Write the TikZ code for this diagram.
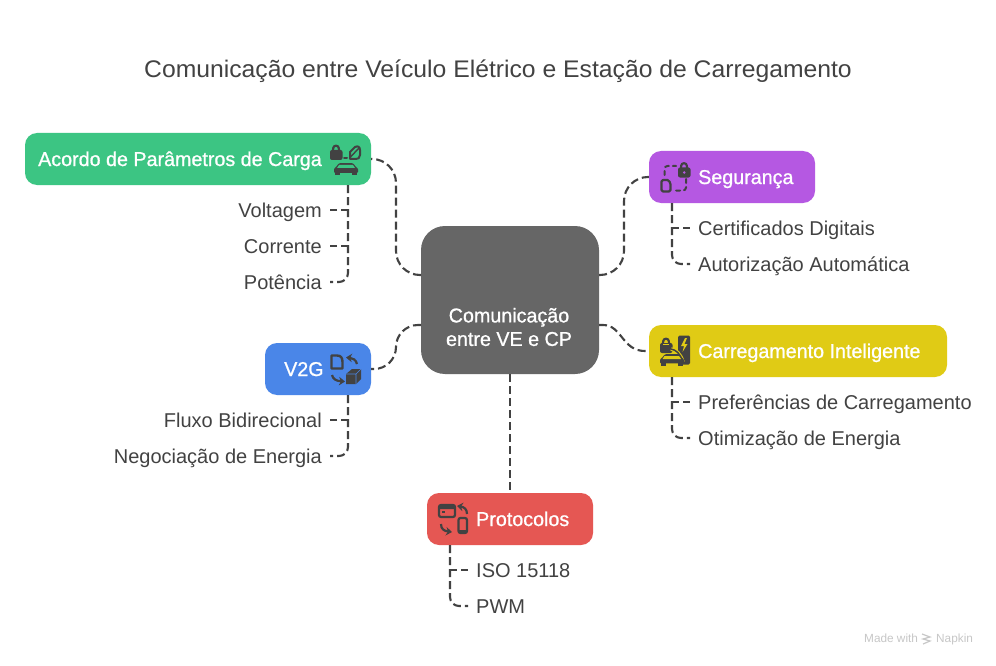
\documentclass[tikz,border=0pt]{standalone}
\usepackage{fontspec}
\setmainfont{Liberation Sans}
\newfontfamily\medfont[FakeStretch=.985,FakeBold=0.9]{Liberation Sans}
\newfontfamily\titlefont[FakeStretch=1.03]{Liberation Sans}
\usetikzlibrary{arrows.meta,calc}
\definecolor{ink}{HTML}{424242}
\definecolor{cgreen}{HTML}{3CC583}
\definecolor{cpurple}{HTML}{B558E2}
\definecolor{cyellow}{HTML}{E0CB15}
\definecolor{cblue}{HTML}{4A86E8}
\definecolor{cred}{HTML}{E55753}
\definecolor{cgrey}{HTML}{666666}
\tikzset{
  x=1pt,y=-1pt,
  conn/.style={draw=ink,line width=2.1pt,dash pattern=on 8pt off 4pt},
  box/.style={draw=none,rounded corners=12pt,minimum height=52pt,inner sep=0pt,text width=0pt},
  boxtitle/.style={inner sep=0pt,text=white,font=\medfont\fontsize{20}{24}\selectfont,text height=14pt,text depth=0pt},
  leaf/.style={inner sep=0pt,text=ink,font=\fontsize{20}{24}\selectfont,text height=14pt,text depth=0pt},
  iline/.style={draw=ink,line width=2pt,fill=none,line cap=round,line join=round},
  iarrow/.style={draw=ink,line width=2.2pt,-{Stealth[length=6pt,width=8.5pt]}},
}
\newcommand{\padlock}[3]{% x,y of top-left, colour of keyhole
  \begin{scope}[shift={(#1,#2)}]
    \draw[draw=ink,line width=2.2pt] (2.8,7) -- (3.2,3.2) arc[start angle=180,end angle=0,x radius=2.8,y radius=-2.5] -- (9.2,7);
    \fill[ink,rounded corners=2pt] (0,5) rectangle (12.5,15);
    \fill[#3] (6.2,10) circle (1.3pt);
  \end{scope}}
\newcommand{\carshape}[4]{% x,y,width,height; body colour dark
  \begin{scope}[shift={(#1,#2)},x=#3pt,y=-#4pt]
    \fill[ink,rounded corners=1pt] (.08,.35) -- (.2,.02) -- (.8,.02) -- (.92,.35) -- (1,.45) -- (1,.82) -- (0,.82) -- (0,.45) -- cycle;
    \fill[ink] (.06,.8) rectangle (.26,1);
    \fill[ink] (.74,.8) rectangle (.94,1);
  \end{scope}}
\begin{document}
\begin{tikzpicture}
\useasboundingbox (0,0) rectangle (996,666);
\fill[white] (0,0) rectangle (996,666);

\node[inner sep=0pt,text=ink,font=\titlefont\fontsize{24}{28}\selectfont,anchor=base] (title) at (498,78) {Comunicação entre Veículo Elétrico e Estação de Carregamento};

% boxes
\node[box,fill=cgrey,rounded corners=24pt,minimum width=178pt,minimum height=148pt] (center) at (510,300) {};
\node[inner sep=0pt,text=white,font=\medfont\fontsize{20}{23.5}\selectfont,align=center] (centerlabel) at (509,327) {Comunicação\\entre VE e CP};
\node[box,fill=cgreen,minimum width=346pt] (green) at (198,159) {};
\node[box,fill=cpurple,minimum width=166pt] (purple) at (732,177) {};
\node[box,fill=cyellow,minimum width=298pt] (yellow) at (798,351) {};
\node[box,fill=cblue,minimum width=106pt] (blue) at (318,369) {};
\node[box,fill=cred,minimum width=166pt] (red) at (510,519) {};

\node[boxtitle,anchor=west] (greent) at (38,159) {Acordo de Parâmetros de Carga};
\node[boxtitle,anchor=west] (purplet) at (698,177) {Segurança};
\node[boxtitle,anchor=west] (yellowt) at (698,351) {Carregamento Inteligente};
\node[boxtitle,anchor=west] (bluet) at (284,369) {V2G};
\node[boxtitle,anchor=west] (redt) at (476,519) {Protocolos};

% leaves
\node[leaf,anchor=east] (volt) at (322,210) {Voltagem};
\node[leaf,anchor=east] (corr) at (322,246) {Corrente};
\node[leaf,anchor=east] (pote) at (322,282) {Potência};
\node[leaf,anchor=east] (flux) at (322,420) {Fluxo Bidirecional};
\node[leaf,anchor=east] (nego) at (322,456) {Negociação de Energia};
\node[leaf,anchor=west] (cert) at (698,228) {Certificados Digitais};
\node[leaf,anchor=west] (auto) at (698,264) {Autorização Automática};
\node[leaf,anchor=west] (pref) at (698,402) {Preferências de Carregamento};
\node[leaf,anchor=west] (otim) at (698,438) {Otimização de Energia};
\node[leaf,anchor=west] (iso) at (476,570) {ISO 15118};
\node[leaf,anchor=west] (pwm) at (476,606) {PWM};

% anchors of the connectors
\coordinate (greentop) at (348,185);
\coordinate (bluetop) at (348,395);
\coordinate (purpletop) at (672,203);
\coordinate (yellowtop) at (672,377);
\coordinate (redtop) at (450,545);
\coordinate (cR1) at (599,275);
\coordinate (cR2) at (599,325);
\coordinate (cL1) at (421,275);
\coordinate (cL2) at (421,325);
\coordinate (gapL) at (8,0);
\coordinate (gapR) at (-8,0);

% centre connectors
\draw[conn,rounded corners=24pt] (cL1) -- (396,275) -- (396,159) -- (green.east);
\draw[conn,rounded corners=24pt] (cR1) -- (624,275) -- (624,177) -- (purple.west);
\draw[conn] (cR2) -- (603,325) .. controls (622,325) and (622,351) .. (645,351) -- (yellow.west);
\draw[conn,rounded corners=22pt] (cL2) -- (396,325) -- (396,369) -- (blue.east);
\draw[conn] (center.south) -- (center.south |- red.north);

% leaf connectors
\draw[conn] (greentop) |- ($(volt.east)+(gapL)$);
\draw[conn] (greentop) |- ($(corr.east)+(gapL)$);
\draw[conn,rounded corners=9pt] (greentop) |- ($(pote.east)+(gapL)$);

\draw[conn] (bluetop) |- ($(flux.east)+(gapL)$);
\draw[conn,rounded corners=9pt] (bluetop) |- ($(nego.east)+(gapL)$);

\draw[conn] (purpletop) |- ($(cert.west)+(gapR)$);
\draw[conn,rounded corners=9pt] (purpletop) |- ($(auto.west)+(gapR)$);

\draw[conn] (yellowtop) |- ($(pref.west)+(gapR)$);
\draw[conn,rounded corners=9pt] (yellowtop) |- ($(otim.west)+(gapR)$);

\draw[conn] (redtop) |- ($(iso.west)+(gapR)$);
\draw[conn,rounded corners=9pt] (redtop) |- ($(pwm.west)+(gapR)$);

% green icon
\padlock{330}{145}{ink}
\draw[iline] (344,158) -- (347,158);
\draw[iline] (350,159) -- (350,152) -- (355,147) .. controls (358,145.5) and (360,147) .. (360,150) -- (360,155) .. controls (360,158) and (358,159) .. (356,159) -- cycle;
\draw[iline,line width=1.4pt] (350.5,157) -- (359,148);
\carshape{334}{163}{24}{12}
\fill[cgreen] (339,165) -- (353,165) -- (355,168) -- (337,168) -- cycle;

% purple icon
\draw[iline,dash pattern=on 4pt off 4pt,rounded corners=3pt] (664.5,175) -- (664.5,166) -- (676,166);
\draw[iline,dash pattern=on 4pt off 4pt,rounded corners=3pt] (686,179) -- (686,190.5) -- (676,190.5);
\padlock{678}{162.5}{cpurple}
\draw[iline,line width=2.2pt,rounded corners=1.5pt] (661.5,180) -- (666,180) .. controls (669,180) and (670.5,183) .. (670.5,186) -- (670.5,191.5) -- (661.5,191.5) -- cycle;

% yellow icon
\padlock{660}{338}{ink}
\fill[cyellow] (663,343.8) rectangle (669,345);
\fill[ink,rounded corners=1.5pt] (678,335.5) rectangle (690,364.5);
\fill[cyellow] (685,338) -- (681,346) -- (684,346) -- (682.5,352) -- (687.5,344) -- (684.5,344) -- (687,338) -- cycle;
\draw[cyellow,line width=3.6pt] (671,349) .. controls (676,350) and (680,353) .. (683,362);
\draw[ink,line width=1.5pt] (671,349) .. controls (676,350) and (680,353) .. (683,362);
\carshape{660}{354}{24}{11.5}
\fill[cyellow] (664.5,356) -- (679,356) -- (681,359) -- (662.5,359) -- cycle;

% blue icon
\draw[iline,line width=2.4pt] (331.5,355.5) -- (337,355.5) .. controls (341,355.5) and (342.5,358) .. (342.5,362) -- (342.5,368.5) -- (331.5,368.5) -- cycle;
\draw[iarrow] (357,364) .. controls (356,360) and (353,358) .. (346,357.5);
\draw[iarrow] (332,375) .. controls (333,379) and (336,381) .. (345,381.5);
\fill[ink] (346,374) -- (352,369) -- (361,369) -- (361,379) -- (356,384) -- (346,384) -- cycle;
\draw[cblue,line width=.6pt] (346,374) -- (356,374) -- (356,384) (356,374) -- (361,369);

% red icon
\draw[iline,line width=2.2pt,rounded corners=2pt] (439,505) rectangle (455,517);
\fill[ink,rounded corners=1pt] (439,505) rectangle (455,509);
\fill[ink] (441.5,511) rectangle (445,513);
\draw[iarrow] (467,514) .. controls (467,509) and (464,507) .. (457,506);
\draw[iarrow] (441,524) .. controls (441,529) and (444,531) .. (452,532);
\draw[iline,line width=2.2pt,rounded corners=2pt] (458.5,518) rectangle (467,533);
\fill[ink] (458,529.5) rectangle (467,533);

% watermark
\node[inner sep=0pt,anchor=base west,text=black!22,font=\fontsize{11.8}{13}\selectfont] (made) at (864,642) {Made with};
\node[inner sep=0pt,anchor=base west,text=black!22,font=\fontsize{11.8}{13}\selectfont] (napkin) at (936,642) {Napkin};
\draw[black!22,line width=1.2pt] (922,634) -- (930,637) -- (923,639) -- (930,641) -- (923,644);
\end{tikzpicture}
\end{document}
